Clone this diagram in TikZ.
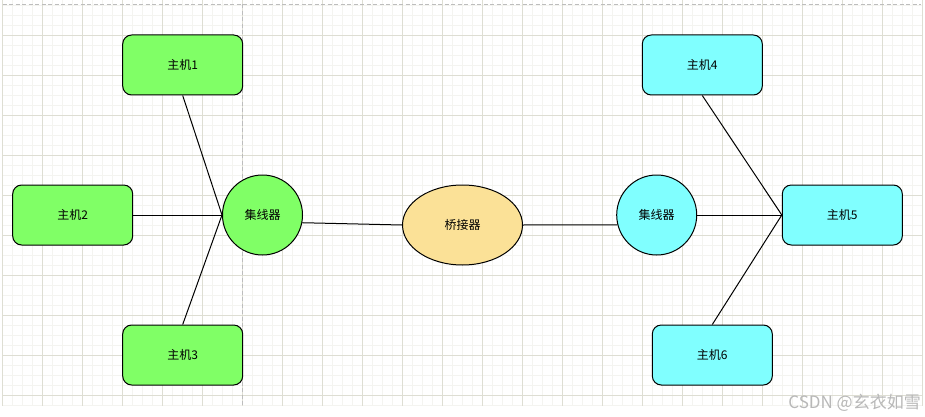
\documentclass[tikz,border=0pt]{standalone}
\usepackage{fontspec}
\newfontfamily\cjk{Noto Sans CJK SC}
\usetikzlibrary{shapes.geometric}
\definecolor{gminor}{HTML}{F4F4F0}
\definecolor{gmajor}{HTML}{DEDED3}
\definecolor{pgline}{HTML}{BDBDBD}
\definecolor{hgreen}{HTML}{80FF66}
\definecolor{hcyan}{HTML}{80FFFF}
\definecolor{byellow}{HTML}{FBE197}
\definecolor{wmark}{HTML}{B8B8B8}
\tikzset{
  hostbox/.style={draw=black, line width=1pt, rounded corners=9pt, minimum width=120pt, minimum height=60pt, inner sep=0pt, font=\cjk\fontsize{12}{14}\selectfont},
  hubnode/.style={draw=black, line width=1pt, circle, minimum size=80pt, inner sep=0pt, font=\cjk\fontsize{12}{14}\selectfont},
  bridgenode/.style={draw=black, line width=1pt, ellipse, minimum width=120pt, minimum height=80pt, inner sep=0pt, fill=byellow, font=\cjk\fontsize{12}{14}\selectfont},
  link/.style={draw=black, line width=1pt},
  pagebreak/.style={draw=pgline, line width=0.8pt, dash pattern=on 4pt off 2.5pt},
}
\begin{document}
\begin{tikzpicture}[x=1pt, y=-1pt]
\useasboundingbox (0,0) rectangle (925,417);
\fill[white] (0,0) rectangle (925,417);
% grid
\foreach \i in {0,...,92} {\draw[gminor, line width=0.8pt] ({2.7+10*\i},0) -- ({2.7+10*\i},405.7);}
\foreach \j in {0,...,40} {\draw[gminor, line width=0.8pt] (2.7,{5+10*\j}) -- (923,{5+10*\j});}
\foreach \i in {0,...,23} {\draw[gmajor, line width=0.8pt] ({2.7+40*\i},0) -- ({2.7+40*\i},405.7);}
\foreach \j in {0,...,9} {\draw[gmajor, line width=0.8pt] (2.7,{35+40*\j}) -- (923,{35+40*\j});}
% page breaks
\draw[pagebreak] (2.7,4.5) -- (921,4.5);
\draw[pagebreak] (242.7,4.5) -- (242.7,405.7);
% nodes
\node[hostbox, fill=hgreen] (h1) at (182.7,65) {主机1};
\node[hostbox, fill=hgreen] (h2) at (72.7,215) {主机2};
\node[hostbox, fill=hgreen] (h3) at (182.7,355) {主机3};
\node[hubnode, fill=hgreen] (hubL) at (262.5,215) {集线器};
\node[bridgenode] (bridge) at (462.5,225) {桥接器};
\node[hubnode, fill=hcyan] (hubR) at (656.7,215) {集线器};
\node[hostbox, fill=hcyan] (h4) at (702.3,65) {主机4};
\node[hostbox, fill=hcyan] (h5) at (842.3,215) {主机5};
\node[hostbox, fill=hcyan] (h6) at (712.3,355) {主机6};
% links
\draw[link] (h1.south) -- (hubL.west);
\draw[link] (h2.east) -- (hubL.west);
\draw[link] (h3.north) -- (hubL.west);
\draw[link] (hubL.-11.5) -- (bridge.west);
\draw[link] (bridge.east) -- (hubR.194.5);
\draw[link] (hubR.east) -- (h5.west);
\draw[link] (h4.south) -- (h5.west);
\draw[link] (h6.north) -- (h5.west);
% watermark
\node[anchor=base east, inner sep=0pt, text=wmark, font=\cjk\fontsize{17}{19}\selectfont] (wm) at (921,408) {CSDN @玄衣如雪};
\end{tikzpicture}
\end{document}
